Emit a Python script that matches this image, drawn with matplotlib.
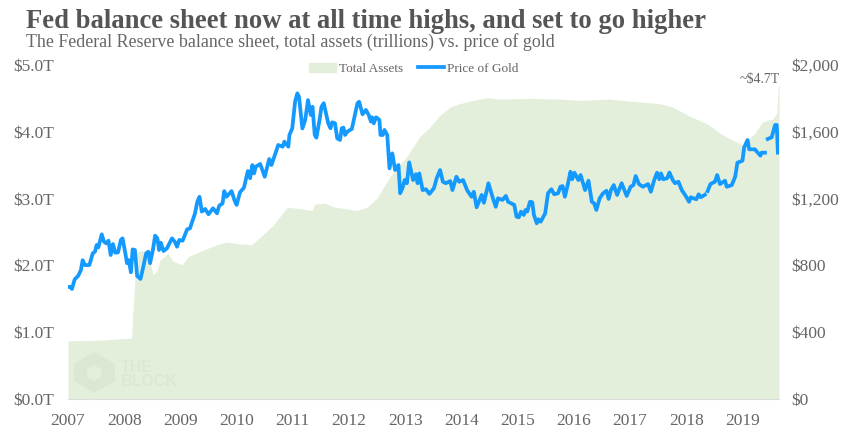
import matplotlib
matplotlib.use("Agg")
import matplotlib.pyplot as plt
from matplotlib.patches import Patch, Polygon
import numpy as np

plt.rcParams["font.family"] = ["Liberation Serif", "DejaVu Serif"]

# total assets, trillions
asset_years = [2007.00, 2007.57, 2008.10, 2008.13, 2008.15, 2008.17, 2008.19, 2008.21, 2008.24, 2008.28,
               2008.42, 2008.51, 2008.58, 2008.64, 2008.78, 2008.87, 2009.03, 2009.14, 2009.35, 2009.65,
               2009.83, 2010.06, 2010.27, 2010.47, 2010.65, 2010.90, 2011.13, 2011.34, 2011.39, 2011.57,
               2011.71, 2012.14, 2012.32, 2012.50, 2012.73, 2013.03, 2013.26, 2013.44, 2013.62, 2013.80,
               2013.97, 2014.15, 2014.45, 2014.68, 2015.22, 2015.75, 2016.11, 2016.64, 2017.00, 2017.53,
               2017.76, 2018.07, 2018.37, 2018.65, 2019.01, 2019.22, 2019.36, 2019.54, 2019.61, 2019.635,
               2019.65]
asset_values = [0.87, 0.88, 0.91, 0.91, 1.23, 1.51, 1.78, 2.16, 2.20, 2.22,
                2.21, 1.86, 1.91, 2.08, 2.18, 2.06, 2.01, 2.13, 2.21, 2.31,
                2.35, 2.32, 2.31, 2.46, 2.60, 2.87, 2.85, 2.82, 2.92, 2.93,
                2.88, 2.82, 2.87, 3.01, 3.33, 3.63, 3.93, 4.07, 4.25, 4.37,
                4.42, 4.46, 4.51, 4.49, 4.50, 4.49, 4.47, 4.49, 4.46, 4.42,
                4.37, 4.23, 4.12, 3.95, 3.80, 3.98, 4.15, 4.19, 4.28, 4.68,
                4.70]

# gold price, usd; nan marks the two holes in the series
gold_years = [2007.01, 2007.04, 2007.07, 2007.09, 2007.12, 2007.18, 2007.23, 2007.26, 2007.30, 2007.38,
              2007.44, 2007.48, 2007.51, 2007.54, 2007.60, 2007.64, 2007.68, 2007.72, 2007.76, 2007.80,
              2007.84, 2007.89, 2007.94, 2007.97, 2008.01, 2008.05, 2008.08, 2008.12, 2008.15, 2008.19,
              2008.23, 2008.29, 2008.34, 2008.39, 2008.43, 2008.46, 2008.51, 2008.55, 2008.59, 2008.62,
              2008.65, 2008.70, 2008.76, 2008.85, 2008.90, 2008.94, 2008.98, 2009.04, 2009.12, 2009.17,
              2009.26, 2009.30, 2009.34, 2009.38, 2009.44, 2009.50, 2009.58, 2009.65, 2009.69, 2009.75,
              2009.78, 2009.82, 2009.91, 2009.96, 2010.00, 2010.06, 2010.13, 2010.20, 2010.24, 2010.28,
              2010.31, 2010.34, 2010.42, 2010.50, 2010.58, 2010.62, 2010.68, 2010.74, 2010.82, 2010.85,
              2010.92, 2010.94, 2010.99, 2011.04, 2011.08, 2011.11, 2011.17, 2011.22, 2011.27, 2011.32,
              2011.35, 2011.39, 2011.42, 2011.48, 2011.51, 2011.55, 2011.63, 2011.67, 2011.70, 2011.75,
              2011.79, 2011.84, 2011.87, 2011.90, 2011.93, 2011.97, 2012.05, 2012.11, 2012.15, 2012.18,
              2012.24, 2012.30, 2012.35, 2012.39, 2012.41, 2012.44, 2012.48, 2012.54, 2012.56, 2012.60,
              2012.63, 2012.68, 2012.72, 2012.77, 2012.82, 2012.88, 2012.91, 2012.95, 2012.99, 2013.03,
              2013.07, 2013.14, 2013.19, 2013.22, 2013.25, 2013.31, 2013.37, 2013.43, 2013.51, 2013.56,
              2013.62, 2013.67, 2013.72, 2013.80, 2013.84, 2013.91, 2013.96, 2014.03, 2014.10, 2014.18,
              2014.22, 2014.27, 2014.36, 2014.40, 2014.48, 2014.56, 2014.61, 2014.65, 2014.73, 2014.79,
              2014.83, 2014.94, 2014.98, 2015.02, 2015.06, 2015.11, 2015.14, 2015.17, 2015.22, 2015.26,
              2015.29, 2015.34, 2015.37, 2015.41, 2015.49, 2015.54, 2015.60, 2015.65, 2015.72, 2015.76,
              2015.80, 2015.84, 2015.89, 2015.94, 2015.97, 2016.01, 2016.08, 2016.12, 2016.20, 2016.26,
              2016.32, 2016.36, 2016.40, 2016.46, 2016.52, 2016.58, 2016.62, 2016.66, 2016.71, 2016.77,
              2016.85, 2016.94, 2017.01, 2017.06, 2017.10, 2017.16, 2017.23, 2017.32, 2017.37, 2017.43,
              2017.48, 2017.52, 2017.55, 2017.59, 2017.66, 2017.70, 2017.76, 2017.80, 2017.86, 2017.92,
              2017.99, 2018.05, 2018.08, 2018.18, 2018.22, 2018.26, 2018.33, 2018.355, 2018.38, 2018.43,
              2018.51, 2018.55, 2018.60, 2018.69, 2018.72, 2018.81, 2018.87, 2018.91, 2019.00, 2019.03,
              2019.09, 2019.12, 2019.22, 2019.32, 2019.34, 2019.40, 2019.425, 2019.45, 2019.52, 2019.58,
              2019.61, 2019.63]
gold_values = [671, 672, 659, 683, 717, 737, 772, 831, 802, 802,
               872, 882, 922, 908, 986, 942, 932, 948, 862, 928,
               876, 878, 952, 962, 892, 813, 832, 759, 896, 892,
               737, 719, 792, 872, 882, 813, 892, 978, 962, 892,
               936, 886, 902, 962, 942, 912, 952, 948, 1016, 1022,
               1112, 1181, 1211, 1122, 1138, 1106, 1142, 1112, 1157, 1172,
               1245, 1211, 1245, 1192, 1162, 1238, 1265, 1365, 1322, 1401,
               1351, 1391, 1407, 1331, 1437, 1401, 1461, 1521, 1511, 1541,
               1511, 1581, 1621, 1780, 1830, 1810, 1620, 1671, 1790, 1701,
               1750, 1581, 1565, 1681, 1750, 1771, 1651, 1621, 1657, 1651,
               1561, 1551, 1621, 1625, 1581, 1601, 1617, 1711, 1771, 1780,
               1705, 1731, 1701, 1661, 1687, 1651, 1687, 1671, 1581, 1581,
               1611, 1581, 1381, 1471, 1371, 1401, 1232, 1262, 1311, 1292,
               1417, 1311, 1346, 1292, 1351, 1251, 1256, 1228, 1262, 1322,
               1371, 1301, 1292, 1305, 1251, 1331, 1301, 1311, 1251, 1211,
               1241, 1148, 1222, 1175, 1292, 1202, 1151, 1202, 1192, 1216,
               1181, 1162, 1092, 1088, 1122, 1102, 1132, 1122, 1181, 1178,
               1102, 1052, 1076, 1062, 1112, 1232, 1256, 1226, 1232, 1271,
               1275, 1211, 1281, 1361, 1316, 1355, 1311, 1341, 1251, 1307,
               1181, 1172, 1132, 1202, 1232, 1247, 1198, 1251, 1281, 1222,
               1292, 1216, 1271, 1281, 1335, 1286, 1271, 1287, 1241, 1311,
               1355, 1316, 1351, 1316, 1322, 1356, 1311, 1292, 1301, 1251,
               1216, 1181, 1208, 1196, 1226, 1208, 1223, np.nan, 1245, 1287,
               1301, 1341, 1287, 1307, 1271, 1281, 1331, 1415, 1427, 1507,
               1551, 1495, 1495, 1457, 1475, 1475, np.nan, 1557, 1567, 1641,
               1641, 1475]

asset_ticks = [0, 1, 2, 3, 4, 5]
asset_tick_labels = ["$0.0T", "$1.0T", "$2.0T", "$3.0T", "$4.0T", "$5.0T"]
gold_ticks = [0, 400, 800, 1200, 1600, 2000]
gold_tick_labels = ["$0", "$400", "$800", "$1,200", "$1,600", "$2,000"]
year_ticks = list(range(2007, 2020))

GREEN = "#e3efda"
BLUE = "#1499ff"
GREY = "#666666"

fig = plt.figure(figsize=(8.53, 4.47), dpi=100)
ax = fig.add_axes([68 / 853, 48 / 447, 711 / 853, 334 / 447])
ax.fill_between(asset_years, asset_values, 0, color=GREEN, lw=0)
ax.set_xlim(2007, 2019.65)
ax.set_ylim(0, 5)
ax.set_yticks(asset_ticks)
ax.set_yticklabels(asset_tick_labels)
ax.set_xticks(year_ticks)
ax.set_xticklabels([str(y) for y in year_ticks])
ax.tick_params(axis="both", length=0, labelsize=12.5, labelcolor=GREY)
ax.tick_params(axis="x", pad=10)
ax.tick_params(axis="y", pad=10)
for side in ["top", "left", "right"]:
    ax.spines[side].set_visible(False)
ax.spines["bottom"].set_color("#dddddd")

ax2 = ax.twinx()
ax2.plot(gold_years, gold_values, color=BLUE, lw=2.7, solid_joinstyle="round")
ax2.set_ylim(0, 2000)
ax2.set_yticks(gold_ticks)
ax2.set_yticklabels(gold_tick_labels)
ax2.tick_params(axis="y", length=0, labelsize=12.5, labelcolor=GREY, pad=9)
for side in ["top", "left", "right", "bottom"]:
    ax2.spines[side].set_visible(False)

ax.text(2019.67, 4.69, "~$4.7T", ha="right", va="bottom", fontsize=10, color=GREY)

# watermark
hexagon = [(94, 352), (115, 364), (115, 381), (94, 393), (74, 381), (74, 364)]
fig.add_artist(Polygon([(x / 853, 1 - y / 447) for x, y in hexagon], closed=True,
                       transform=fig.transFigure, color="#dbe6d3", lw=0))
inner = [(94, 365), (101, 369), (101, 377), (94, 381), (87, 377), (87, 369)]
fig.add_artist(Polygon([(x / 853, 1 - y / 447) for x, y in inner], closed=True,
                       transform=fig.transFigure, color="#e3efda", lw=0))
fig.text(121 / 853, 1 - 372 / 447, "THE", fontsize=11.5, fontweight="bold", color="#dce8d5",
         family="Liberation Sans")
fig.text(121 / 853, 1 - 386 / 447, "BLOCK", fontsize=11.5, fontweight="bold", color="#dce8d5",
         family="Liberation Sans")

handles = [Patch(color=GREEN, label="Total Assets"),
           plt.Line2D([], [], color=BLUE, lw=2.7, label="Price of Gold")]
fig.legend(handles=handles, ncol=2, frameon=False, fontsize=9.5, labelcolor=GREY,
           loc="center", bbox_to_anchor=(414 / 853, 1 - 69 / 447), handlelength=2.0,
           handletextpad=0.25, columnspacing=1.1)

fig.text(26 / 853, 1 - 28 / 447, "Fed balance sheet now at all time highs, and set to go higher",
         fontsize=19.2, fontweight="bold", color="#555555")
fig.text(26 / 853, 1 - 47 / 447, "The Federal Reserve balance sheet, total assets (trillions) vs. price of gold",
         fontsize=12.9, color=GREY)

fig.savefig("out.png", dpi=100)
